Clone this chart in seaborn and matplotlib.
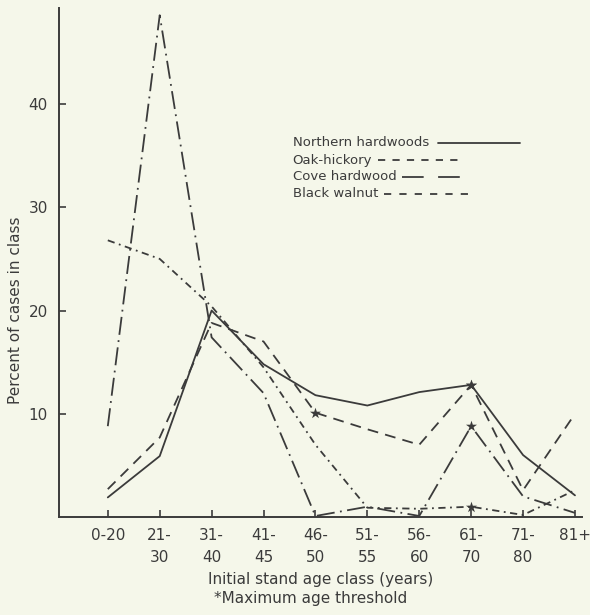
import matplotlib
matplotlib.use("Agg")
import matplotlib.pyplot as plt
import pandas as pd
import seaborn as sns


age_classes = ["0-20", "21-\n30", "31-\n40", "41-\n45", "46-\n50",
               "51-\n55", "56-\n60", "61-\n70", "71-\n80", "81+"]

northern_hardwoods = [1.9, 5.9, 20.0, 14.8, 11.8, 10.8, 12.1, 12.8, 6.0, 2.1]
oak_hickory = [2.7, 7.7, 18.8, 17.0, 10.1, 8.5, 7.0, 12.8, 2.6, 10.0]
cove_hardwood = [8.8, 48.6, 17.4, 12.0, 0.1, 1.0, 0.1, 8.8, 2.0, 0.4]
black_walnut = [26.8, 25.0, 20.4, 14.5, 7.0, 0.9, 0.8, 1.0, 0.2, 2.6]

# age class index where the maximum age threshold (*) falls
thresholds = {
    "Northern hardwoods": [7],
    "Oak-hickory": [4, 7],
    "Cove hardwood": [7],
    "Black walnut": [7],
}

series = {
    "Northern hardwoods": northern_hardwoods,
    "Oak-hickory": oak_hickory,
    "Cove hardwood": cove_hardwood,
    "Black walnut": black_walnut,
}
line_styles = {
    "Northern hardwoods": "-",
    "Oak-hickory": (0, (6, 4)),
    "Cove hardwood": (0, (10, 3, 1, 3)),
    "Black walnut": (0, (4, 2.5, 1, 2.5)),
}
# hand-drawn key: text on the left, sample line trailing after it (axes fraction)
key_rows = {
    "Northern hardwoods": (0.735, 0.725, 0.881),
    "Oak-hickory": (0.701, 0.598, 0.771),
    "Cove hardwood": (0.668, 0.629, 0.791),
    "Black walnut": (0.635, 0.595, 0.795),
}
key_styles = {
    "Northern hardwoods": "-",
    "Oak-hickory": (0, (4, 4)),
    "Cove hardwood": (0, (12, 8)),
    "Black walnut": (0, (4, 4.5)),
}

INK = "#3b3b3b"
PAPER = "#f5f7ea"

sns.set_theme(style="ticks")
plt.rcParams["font.family"] = ["DejaVu Sans"]

rows = []
for name, values in series.items():
    for i, v in enumerate(values):
        rows.append({"series": name, "pos": i, "pct": v,
                     "star": i in thresholds[name]})
df = pd.DataFrame(rows)

fig = plt.figure(figsize=(5.9, 6.15), dpi=100, facecolor=PAPER)
ax = fig.add_axes([0.1, 0.1593, 0.886, 0.8277])
ax.set_facecolor(PAPER)

for name in series:
    sub = df[df["series"] == name]
    sns.lineplot(data=sub, x="pos", y="pct", ax=ax, color=INK, lw=1.3,
                 linestyle=line_styles[name], sort=False, legend=False)
    stars = sub[sub["star"]]
    sns.scatterplot(data=stars, x="pos", y="pct", ax=ax, marker="*",
                    color=INK, s=70, linewidth=0, legend=False, zorder=3)

ax.set_xlim(-0.94, 9.13)
ax.set_ylim(0, 49.3)
ax.set_xticks(range(len(age_classes)))
ax.set_xticklabels(age_classes, fontsize=11, color=INK, linespacing=1.55)
ax.set_yticks([10, 20, 30, 40])
ax.set_yticklabels(["10", "20", "30", "40"], fontsize=11, color=INK)
ax.tick_params(axis="both", direction="in", length=5, width=1.2, color=INK)
ax.tick_params(axis="x", pad=8)
ax.tick_params(axis="y", pad=8)

for side in ["top", "right"]:
    ax.spines[side].set_visible(False)
for side in ["left", "bottom"]:
    ax.spines[side].set_color(INK)
    ax.spines[side].set_linewidth(1.4)

ax.set_xlabel("Initial stand age class (years)", fontsize=11, color=INK,
              labelpad=5)
ax.set_ylabel("Percent of cases in class", fontsize=11, color=INK)
ax.yaxis.set_label_coords(-0.068, 0.407)

renderer = fig.canvas.get_renderer()
to_axes = ax.transAxes.inverted()
for name, (ky, x0, x1) in key_rows.items():
    t = ax.text(0.447, ky, name, transform=ax.transAxes, fontsize=9.5,
                color=INK, ha="left", va="center")
    bb = t.get_window_extent(renderer)
    text_end = to_axes.transform((bb.x1 + 6, bb.y0))[0]
    start = max(x0, text_end)
    ax.plot([start, x1], [ky, ky], transform=ax.transAxes, color=INK, lw=1.3,
            linestyle=key_styles[name])

fig.text(0.527, 0.027, "*Maximum age threshold", ha="center", va="center",
         fontsize=11, color=INK)

fig.savefig("out.png", dpi=100, facecolor=PAPER)
plt.close(fig)
